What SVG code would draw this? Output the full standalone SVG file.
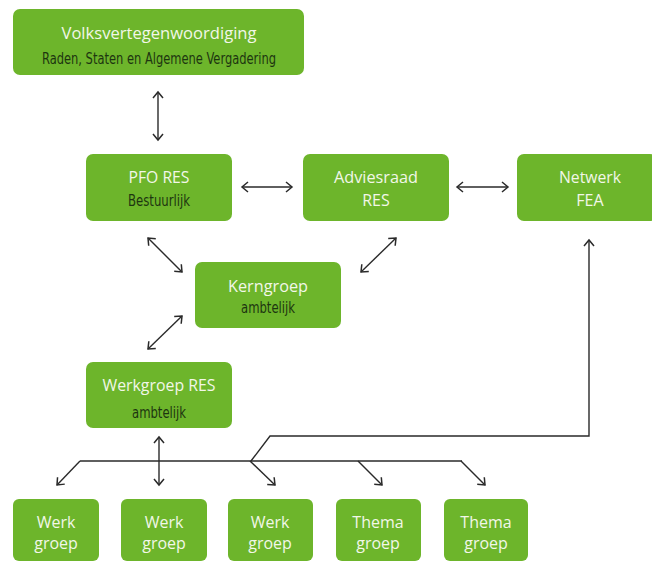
<svg xmlns="http://www.w3.org/2000/svg" width="652" height="562" viewBox="0 0 652 562">
<style>
.box{fill:#6db52b}
.t1{font-family:"Open Sans","Liberation Sans",sans-serif;font-size:16px;fill:#f2f7e8;text-anchor:middle}
.t2{font-family:"DejaVu Sans Condensed","Liberation Sans",sans-serif;font-size:16px;fill:#1d3510;text-anchor:middle}
.c{fill:none;stroke:#2a2a2a;stroke-width:1.4}
</style>
<defs>
<marker id="ah" viewBox="0 0 12 12" refX="10" refY="6" markerWidth="12" markerHeight="12" markerUnits="userSpaceOnUse" orient="auto-start-reverse">
<path d="M4,1 L10,6 L4,11" fill="none" stroke="#2a2a2a" stroke-width="1.5"/>
</marker>
</defs>
<rect width="652" height="562" fill="#fff"/>
<g id="volks"><rect class="box" x="13" y="9" width="291" height="66" rx="7"/>
<text class="t1" x="159" y="39" textLength="195" lengthAdjust="spacingAndGlyphs">Volksvertegenwoordiging</text>
<text class="t2" x="159" y="64" textLength="234" lengthAdjust="spacingAndGlyphs">Raden, Staten en Algemene Vergadering</text></g>
<g id="pfo"><rect class="box" x="86" y="154" width="146" height="67" rx="7"/>
<text class="t1" x="159" y="183" textLength="61" lengthAdjust="spacingAndGlyphs">PFO RES</text>
<text class="t2" x="159" y="206" textLength="62" lengthAdjust="spacingAndGlyphs">Bestuurlijk</text></g>
<g id="advies"><rect class="box" x="303" y="154" width="146" height="67" rx="7"/>
<text class="t1" x="376" y="183" textLength="84" lengthAdjust="spacingAndGlyphs">Adviesraad</text>
<text class="t1" x="376" y="206">RES</text></g>
<g id="netwerk"><rect class="box" x="517" y="154" width="140" height="67" rx="7"/>
<text class="t1" x="590" y="183" textLength="62" lengthAdjust="spacingAndGlyphs">Netwerk</text>
<text class="t1" x="590" y="206">FEA</text></g>
<g id="kern"><rect class="box" x="195" y="262" width="146" height="66" rx="7"/>
<text class="t1" x="268" y="292" textLength="80" lengthAdjust="spacingAndGlyphs">Kerngroep</text>
<text class="t2" x="268" y="313" textLength="54" lengthAdjust="spacingAndGlyphs">ambtelijk</text></g>
<g id="werkres"><rect class="box" x="86" y="362" width="146" height="66" rx="7"/>
<text class="t1" x="159" y="391" textLength="113" lengthAdjust="spacingAndGlyphs">Werkgroep RES</text>
<text class="t2" x="159" y="418" textLength="54" lengthAdjust="spacingAndGlyphs">ambtelijk</text></g>
<g id="werk1"><rect class="box" x="13" y="499" width="86" height="62" rx="6"/>
<text class="t1" x="56" y="528">Werk</text><text class="t1" x="56" y="549">groep</text></g>
<g id="werk2"><rect class="box" x="121" y="499" width="86" height="62" rx="6"/>
<text class="t1" x="164" y="528">Werk</text><text class="t1" x="164" y="549">groep</text></g>
<g id="werk3"><rect class="box" x="228" y="499" width="85" height="62" rx="6"/>
<text class="t1" x="270" y="528">Werk</text><text class="t1" x="270" y="549">groep</text></g>
<g id="thema1"><rect class="box" x="336" y="499" width="85" height="62" rx="6"/>
<text class="t1" x="378" y="528">Thema</text><text class="t1" x="378" y="549">groep</text></g>
<g id="thema2"><rect class="box" x="444" y="499" width="84" height="62" rx="6"/>
<text class="t1" x="486" y="528">Thema</text><text class="t1" x="486" y="549">groep</text></g>
<g id="connectors">
<line class="c" x1="158" y1="92" x2="158" y2="140" marker-start="url(#ah)" marker-end="url(#ah)"/>
<line class="c" x1="242" y1="187" x2="292" y2="187" marker-start="url(#ah)" marker-end="url(#ah)"/>
<line class="c" x1="457" y1="187" x2="508" y2="187" marker-start="url(#ah)" marker-end="url(#ah)"/>
<line class="c" x1="148" y1="238" x2="182" y2="272" marker-start="url(#ah)" marker-end="url(#ah)"/>
<line class="c" x1="361" y1="272" x2="396" y2="238" marker-start="url(#ah)" marker-end="url(#ah)"/>
<line class="c" x1="182" y1="316" x2="148" y2="349" marker-start="url(#ah)" marker-end="url(#ah)"/>
<line class="c" x1="159" y1="437" x2="159" y2="485" marker-start="url(#ah)" marker-end="url(#ah)"/>
<path class="c" d="M251,461 L270,436 L589,436 L589,240" marker-end="url(#ah)"/>
<path class="c" d="M80,461 L462,461"/>
<path class="c" d="M80,461 L57,485" marker-end="url(#ah)"/>
<path class="c" d="M250,461 L275,485" marker-end="url(#ah)"/>
<path class="c" d="M358,461 L382,485" marker-end="url(#ah)"/>
<path class="c" d="M461,461 L485,485" marker-end="url(#ah)"/>
</g>
</svg>
